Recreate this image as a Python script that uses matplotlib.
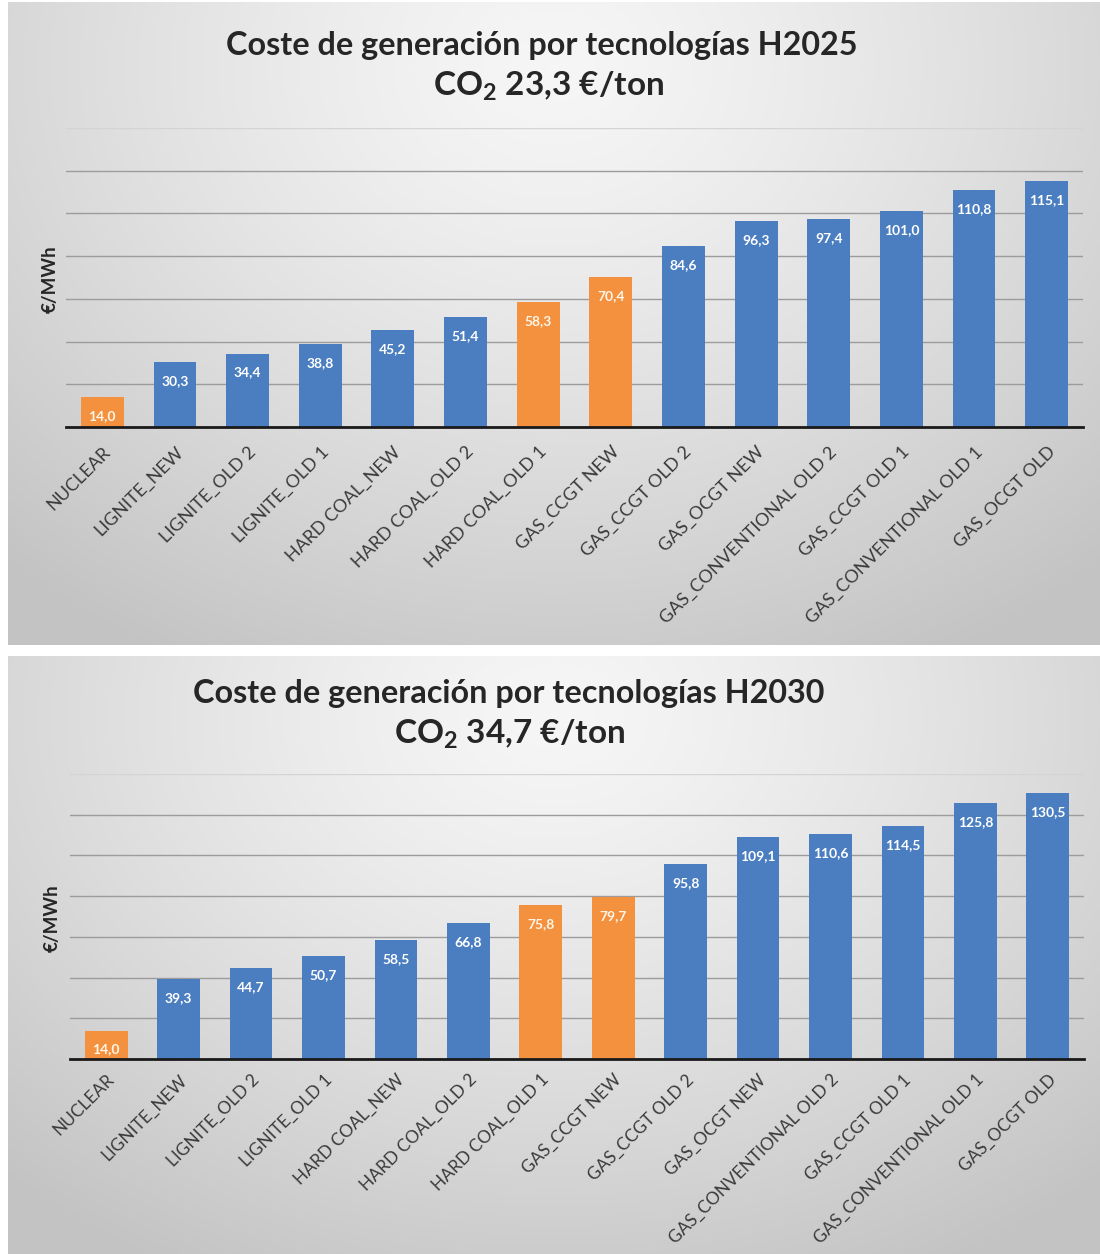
import numpy as np
import matplotlib
matplotlib.use("Agg")
import matplotlib.pyplot as plt

plt.rcParams['font.family'] = ['Lato', 'DejaVu Sans']
plt.rcParams['mathtext.fontset'] = 'custom'
plt.rcParams['mathtext.rm'] = 'Lato:bold'
plt.rcParams['mathtext.it'] = 'Lato:bold'
plt.rcParams['mathtext.bf'] = 'Lato:bold'

# Technologies, ordered by generation cost
technologies = [
    "NUCLEAR", "LIGNITE_NEW", "LIGNITE_OLD 2", "LIGNITE_OLD 1", "HARD COAL_NEW",
    "HARD COAL_OLD 2", "HARD COAL_OLD 1", "GAS_CCGT NEW", "GAS_CCGT OLD 2",
    "GAS_OCGT NEW", "GAS_CONVENTIONAL OLD 2", "GAS_CCGT OLD 1",
    "GAS_CONVENTIONAL OLD 1", "GAS_OCGT OLD",
]

# Generation cost (€/MWh)
cost_2025 = [14.0, 30.3, 34.4, 38.8, 45.2, 51.4, 58.3, 70.4, 84.6, 96.3, 97.4, 101.0, 110.8, 115.1]
cost_2030 = [14.0, 39.3, 44.7, 50.7, 58.5, 66.8, 75.8, 79.7, 95.8, 109.1, 110.6, 114.5, 125.8, 130.5]

# Highlighted technologies (orange)
highlighted = ["NUCLEAR", "HARD COAL_OLD 1", "GAS_CCGT NEW"]

titles = ["Coste de generación por tecnologías H2025", "Coste de generación por tecnologías H2030"]
subtitles = [r"CO$_2$ 23,3 €/ton", r"CO$_2$ 34,7 €/ton"]
y_label = "€/MWh"
y_ticks = [0, 20, 40, 60, 80, 100, 120, 140]

BLUE = "#4A7EC0"
ORANGE = "#F3913E"

W, H = 1100, 1254
fig = plt.figure(figsize=(W / 100, H / 100), dpi=100)
fig.patch.set_facecolor("white")


def px_rect(x0, y0, x1, y1):
    return [x0 / W, 1 - y1 / H, (x1 - x0) / W, (y1 - y0) / H]


def gradient_panel(rect_px, cx=0.5, cy=0.1):
    bg = fig.add_axes(px_rect(*rect_px), zorder=-10)
    h, w = 300, 500
    yy, xx = np.mgrid[0:1:complex(0, h), 0:1:complex(0, w)]
    d = np.sqrt(((xx - cx) / 0.75) ** 2 + ((yy - cy) / 1.05) ** 2)
    d = np.clip(d, 0, 1)
    v = 0.965 - 0.2 * d ** 1.3
    img = np.dstack([v, v, v])
    bg.imshow(img, aspect="auto", extent=[0, 1, 1, 0], interpolation="bicubic")
    bg.set_axis_off()


panels = [
    dict(bg=(8, 2, 1100, 645), ax=(66, 128, 1083, 427), title_x=542, title_y=45,
         sub_x=549, sub_y=86, ylab=(50, 279), data=cost_2025, pad=12, fs=13),
    dict(bg=(8, 656, 1100, 1254), ax=(70, 774, 1084, 1059), title_x=509, title_y=693,
         sub_x=510, sub_y=734, ylab=(52, 918), data=cost_2030, pad=9, fs=12.4),
]

for i, p in enumerate(panels):
    gradient_panel(p["bg"])
    ax = fig.add_axes(px_rect(*p["ax"]))
    ax.patch.set_alpha(0)
    x = np.arange(len(technologies))
    colors = [ORANGE if t in highlighted else BLUE for t in technologies]
    bars = ax.bar(x, p["data"], width=0.59, color=colors, zorder=3)
    ax.set_xlim(-0.5, len(technologies) - 0.5)
    ax.set_ylim(0, 140)
    ax.set_yticks(y_ticks)
    ax.set_yticklabels([])
    ax.tick_params(axis="y", length=0)
    ax.tick_params(axis="x", length=0, pad=p["pad"])
    ax.yaxis.grid(True, color="#9c9c9c", linewidth=1.0, zorder=0)
    grid = ax.get_ygridlines()
    grid[-1].set_color("#d4d4d4")
    for s in ["top", "right", "left"]:
        ax.spines[s].set_visible(False)
    ax.spines["bottom"].set_color("#1a1a1a")
    ax.spines["bottom"].set_linewidth(2.0)
    ax.spines["bottom"].set_zorder(4)
    ax.set_xticks(x)
    ax.set_xticklabels(technologies, rotation=45, ha="right", va="top",
                       rotation_mode="anchor", fontsize=p["fs"], color="#3a3a3a")
    for b, v, c in zip(bars, p["data"], colors):
        ax.annotate(f"{v:.1f}".replace(".", ","),
                    xy=(b.get_x() + b.get_width() / 2, v),
                    xytext=(0, -19), textcoords="offset pixels",
                    ha="center", va="center", fontsize=10, fontweight="bold",
                    color="#FFF6E8" if c == ORANGE else "white", zorder=5)
    fig.text(p["title_x"] / W, 1 - p["title_y"] / H, titles[i], ha="center", va="center",
             fontsize=23.3, fontweight="bold", color="#262626")
    fig.text(p["sub_x"] / W, 1 - p["sub_y"] / H, subtitles[i], ha="center", va="center",
             fontsize=24, fontweight="bold", color="#262626")
    fig.text(p["ylab"][0] / W, 1 - p["ylab"][1] / H, y_label, ha="center", va="center",
             rotation=90, fontsize=13.5, fontweight="bold", color="#262626")

fig.savefig("out.png", dpi=100)
